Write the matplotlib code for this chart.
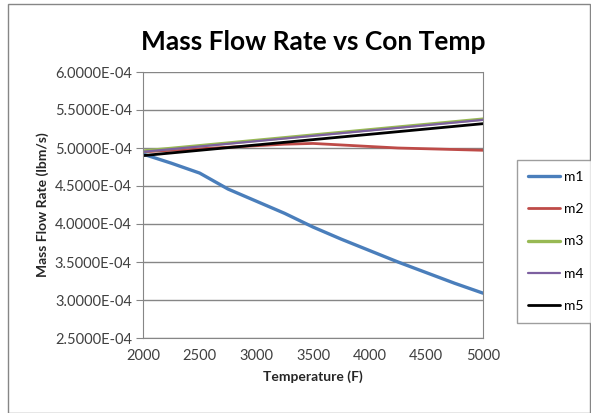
import matplotlib
matplotlib.use("Agg")
import matplotlib.pyplot as plt
from matplotlib.patches import Rectangle

plt.rcParams['font.family'] = ['Lato', 'DejaVu Sans']

temps = [2000, 2250, 2500, 2750, 3000, 3250, 3500, 3750, 4000, 4250, 4500, 4750, 5000]
m1 = [4.92, 4.80, 4.67, 4.46, 4.30, 4.14, 3.96, 3.80, 3.65, 3.50, 3.36, 3.22, 3.09]
m2 = [4.95, 4.97, 4.99, 5.01, 5.03, 5.05, 5.06, 5.04, 5.02, 5.00, 4.99, 4.98, 4.97]
m3 = [4.96, 4.995, 5.03, 5.065, 5.10, 5.135, 5.17, 5.205, 5.24, 5.275, 5.31, 5.345, 5.38]
m4 = [4.95, 4.985, 5.02, 5.055, 5.09, 5.125, 5.16, 5.195, 5.23, 5.265, 5.30, 5.335, 5.37]
m5 = [4.90, 4.935, 4.97, 5.005, 5.04, 5.075, 5.11, 5.145, 5.18, 5.215, 5.25, 5.285, 5.32]
series = [("m1", m1, "#4a7ebb", 2.4), ("m2", m2, "#be4b48", 2.0),
          ("m3", m3, "#98b954", 2.4), ("m4", m4, "#7d60a0", 1.6),
          ("m5", m5, "#000000", 2.0)]
yticks = [2.5e-4, 3.0e-4, 3.5e-4, 4.0e-4, 4.5e-4, 5.0e-4, 5.5e-4, 6.0e-4]
xticks = [2000, 2500, 3000, 3500, 4000, 4500, 5000]

fig = plt.figure(figsize=(5.91, 4.13), dpi=100)
fig.patches.append(Rectangle((8/591, 0), 1 - 8/591 - 0.002, 1 - 3/413 - 0.003,
                             transform=fig.transFigure, fill=False,
                             edgecolor="#868686", linewidth=1.0))
ax = fig.add_axes([143/591, 1 - 338/413, (483 - 143)/591, (338 - 72)/413])

for name, vals, col, lw in series:
    ax.plot(temps, [v * 1e-4 for v in vals], color=col, linewidth=lw, label=name,
            solid_capstyle='round')

ax.set_xlim(2000, 5000)
ax.set_ylim(2.5e-4, 6.0e-4)
ax.set_xticks(xticks)
ax.set_yticks(yticks)
ax.set_yticklabels([f"{v:.4E}" for v in yticks])
ax.set_xticklabels([str(t) for t in xticks])
ax.grid(axis='y', color="#868686", linewidth=1.0)
ax.set_axisbelow(True)
ax.spines['top'].set_visible(False)
for s in ['right', 'left', 'bottom']:
    ax.spines[s].set_color("#868686")
ax.tick_params(axis='y', length=5, color="#868686", labelsize=10.5, labelcolor="#404040", pad=3, direction='out')
ax.tick_params(axis='x', length=0, labelsize=10.5, labelcolor="#404040", pad=8)

ax.set_title("Mass Flow Rate vs Con Temp", fontsize=19, fontweight='bold', pad=16)
ax.set_xlabel("Temperature (F)", fontsize=10, fontweight='bold', color="#262626", labelpad=5)
ax.set_ylabel("Mass Flow Rate (lbm/s)", fontsize=10, fontweight='bold', color="#262626", labelpad=4)

leg = fig.legend(loc='upper left', bbox_to_anchor=(517/591, 1 - 160/413),
                 frameon=True, fancybox=False, fontsize=10, handlelength=2.3,
                 labelspacing=1.45, borderpad=0.8, handletextpad=0.3, borderaxespad=0)
leg.get_frame().set_edgecolor("#868686")
leg.get_frame().set_linewidth(1.0)

fig.savefig("out.png", dpi=100)
